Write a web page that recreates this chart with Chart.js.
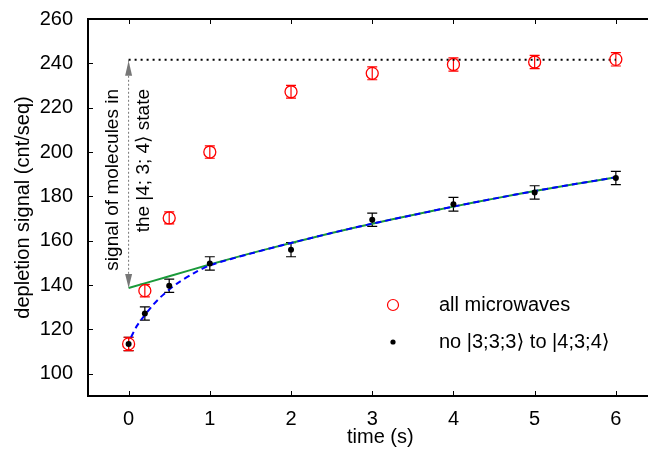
<!DOCTYPE html>
<html><head><meta charset="utf-8">
<script src="https://cdn.jsdelivr.net/npm/chart.js@4/dist/chart.umd.min.js"></script>
<style>html,body{margin:0;padding:0;background:#fff;overflow:hidden;}#wrap{width:680px;height:457px;}</style>
</head><body><div id="wrap"><canvas id="c" width="680" height="457"></canvas></div>
<script>
const FONT = '"Liberation Sans", Arial, "DejaVu Sans", sans-serif';
const xTickValues = [0, 1, 2, 3, 4, 5, 6];
const yTickValues = [100, 120, 140, 160, 180, 200, 220, 240, 260];

const timePoints = [0, 0.2, 0.5, 1, 2, 3, 4, 5, 6];
const allMicrowaves = [113.5, 137.5, 170.3, 200, 227.2, 235.5, 239.5, 240.6, 241.8];
const allMicrowavesErr = [3, 2.8, 2.7, 2.8, 2.9, 2.9, 3, 3, 3];
const noTransfer = [113.5, 127.2, 139.7, 149.8, 156, 169.5, 176.5, 181.8, 188.3];
const noTransferErr = [3, 3, 3, 3, 3.2, 3, 3.1, 3, 3];

const greenT = [0, 0.5, 1, 1.5, 2, 2.5, 3, 3.5, 4, 4.5, 5, 5.5, 6];
const greenFit = [138.7, 144.0, 149.3, 154.3, 159.0, 163.5, 167.7, 171.6, 175.4, 179.0, 182.4, 185.6, 188.6];
const blueT = [0.03, 0.1, 0.2, 0.3, 0.4, 0.5, 0.6, 0.8, 1, 1.5, 2, 2.5, 3, 3.5, 4, 4.5, 5, 5.5, 6];
const blueFit = [116.5, 121.5, 126.5, 131, 134.8, 138, 140.8, 145.3, 148.9, 154.2, 159.0, 163.5, 167.7, 171.6, 175.4, 179.0, 182.4, 185.6, 188.6];

const plateauT = [0, 6];
const plateauY = [241.6, 241.6];
const arrowT = [0, 0];
const arrowY = [241.6, 138.7];

const legendLabels = ['all microwaves', 'no |3;3;3\u27E9 to |4;3;4\u27E9'];
const noteLines = ['signal of molecules in', 'the |4; 3; 4\u27E9 state'];

function xy(xs, ys) { return xs.map((x, i) => ({x: x, y: ys[i]})); }

const deco = {
  id: 'deco',
  beforeDatasetsDraw(chart) {
    const ctx = chart.ctx, xs = chart.scales.x, ys = chart.scales.y;
    const drawErr = (vals, errs, color, w) => {
      ctx.save();
      ctx.strokeStyle = color; ctx.lineWidth = w;
      timePoints.forEach((t, i) => {
        const px = xs.getPixelForValue(t);
        const y1 = ys.getPixelForValue(vals[i] - errs[i]);
        const y2 = ys.getPixelForValue(vals[i] + errs[i]);
        ctx.beginPath();
        ctx.moveTo(px, y1); ctx.lineTo(px, y2);
        ctx.moveTo(px - 5, y1); ctx.lineTo(px + 5, y1);
        ctx.moveTo(px - 5, y2); ctx.lineTo(px + 5, y2);
        ctx.stroke();
      });
      ctx.restore();
    };
    drawErr(noTransfer, noTransferErr, '#000', 1.2);
    drawErr(allMicrowaves, allMicrowavesErr, '#ff0000', 1.2);
  },
  afterDraw(chart) {
    const ctx = chart.ctx, xs = chart.scales.x, ys = chart.scales.y, a = chart.chartArea;
    ctx.save();
    ctx.strokeStyle = '#000'; ctx.lineWidth = 1;
    ctx.beginPath();
    xTickValues.forEach(v => {
      const px = Math.round(xs.getPixelForValue(v)) + 0.5;
      ctx.moveTo(px, a.bottom); ctx.lineTo(px, a.bottom - 5);
      ctx.moveTo(px, a.top); ctx.lineTo(px, a.top + 5);
    });
    yTickValues.forEach(v => {
      const py = Math.round(ys.getPixelForValue(v)) + 0.5;
      ctx.moveTo(a.left, py); ctx.lineTo(a.left + 5, py);
      ctx.moveTo(a.right, py); ctx.lineTo(a.right - 5, py);
    });
    ctx.stroke();
    ctx.lineWidth = 2;
    ctx.strokeRect(a.left, a.top, a.right - a.left, a.bottom - a.top);
    const ax = xs.getPixelForValue(arrowT[0]);
    const yTop = ys.getPixelForValue(arrowY[0]) + 1;
    const yBot = ys.getPixelForValue(arrowY[1]);
    ctx.fillStyle = '#777';
    ctx.beginPath();
    ctx.moveTo(ax, yTop); ctx.lineTo(ax - 3.5, yTop + 15); ctx.lineTo(ax + 3.5, yTop + 15); ctx.closePath();
    ctx.fill();
    ctx.beginPath();
    ctx.moveTo(ax, yBot); ctx.lineTo(ax - 3.5, yBot - 14); ctx.lineTo(ax + 3.5, yBot - 14); ctx.closePath();
    ctx.fill();
    ctx.fillStyle = '#000';
    ctx.font = '19px ' + FONT;
    ctx.textAlign = 'right'; ctx.textBaseline = 'middle';
    const noteTop = 89;
    [[-16, noteLines[0]], [15, noteLines[1]]].forEach(([dx, txt]) => {
      ctx.save();
      ctx.translate(ax + dx, noteTop);
      ctx.rotate(-Math.PI / 2);
      ctx.fillText(txt, 0, 0);
      ctx.restore();
    });
    ctx.textAlign = 'left'; ctx.textBaseline = 'middle';
    ctx.font = '20px ' + FONT;
    ctx.strokeStyle = '#ff0000'; ctx.lineWidth = 1.2;
    ctx.beginPath(); ctx.arc(393, 305, 5.5, 0, Math.PI * 2); ctx.stroke();
    ctx.fillStyle = '#000';
    ctx.beginPath(); ctx.arc(393, 342, 2.6, 0, Math.PI * 2); ctx.fill();
    ctx.fillText(legendLabels[0], 439, 305);
    ctx.fillText(legendLabels[1], 439, 342);
    ctx.restore();
  }
};

new Chart(document.getElementById('c'), {
  type: 'scatter',
  data: {
    datasets: [
      {data: xy(plateauT, plateauY), showLine: true, borderColor: '#000', borderWidth: 2, borderDash: [2, 4], pointRadius: 0, order: 6},
      {data: xy(arrowT, arrowY), showLine: true, borderColor: '#777', borderWidth: 1, borderDash: [2, 2], pointRadius: 0, order: 5},
      {data: xy(greenT, greenFit), showLine: true, borderColor: '#1a9a3a', borderWidth: 2, pointRadius: 0, tension: 0.3, order: 4},
      {data: xy(blueT, blueFit), showLine: true, borderColor: '#0000ff', borderWidth: 2, borderDash: [6, 4], pointRadius: 0, tension: 0.3, order: 3},
      {label: 'no transfer', data: xy(timePoints, noTransfer), pointRadius: 3, pointBackgroundColor: '#000', pointBorderColor: '#000', pointBorderWidth: 0, order: 2},
      {label: 'all microwaves', data: xy(timePoints, allMicrowaves), pointRadius: 6, pointBackgroundColor: 'rgba(0,0,0,0)', pointBorderColor: '#ff0000', pointBorderWidth: 1.3, order: 1}
    ]
  },
  options: {
    responsive: false, animation: false,
    layout: {padding: {top: 14, right: 7, left: 0, bottom: 0}},
    plugins: {legend: {display: false}, tooltip: {enabled: false}},
    scales: {
      x: {
        type: 'linear', min: -0.5, max: 6.7,
        afterBuildTicks: s => { s.ticks = xTickValues.map(v => ({value: v})); },
        afterFit: s => { s.height = 61; },
        grid: {display: false}, border: {display: false},
        ticks: {color: '#000', font: {family: FONT, size: 20}, padding: 3, maxRotation: 0},
        title: {display: true, text: 'time (s)', color: '#000', font: {family: FONT, size: 20}, padding: {top: 0, bottom: 8}}
      },
      y: {
        min: 90, max: 260,
        afterBuildTicks: s => { s.ticks = yTickValues.map(v => ({value: v})); },
        afterFit: s => { s.width = 88; },
        grid: {display: false}, border: {display: false},
        ticks: {color: '#000', font: {family: FONT, size: 20}, padding: 7},
        title: {display: true, text: 'depletion signal (cnt/seq)', color: '#000', font: {family: FONT, size: 20}, padding: {top: 11, bottom: 0}}
      }
    }
  },
  plugins: [deco]
});
</script>
</body></html>
